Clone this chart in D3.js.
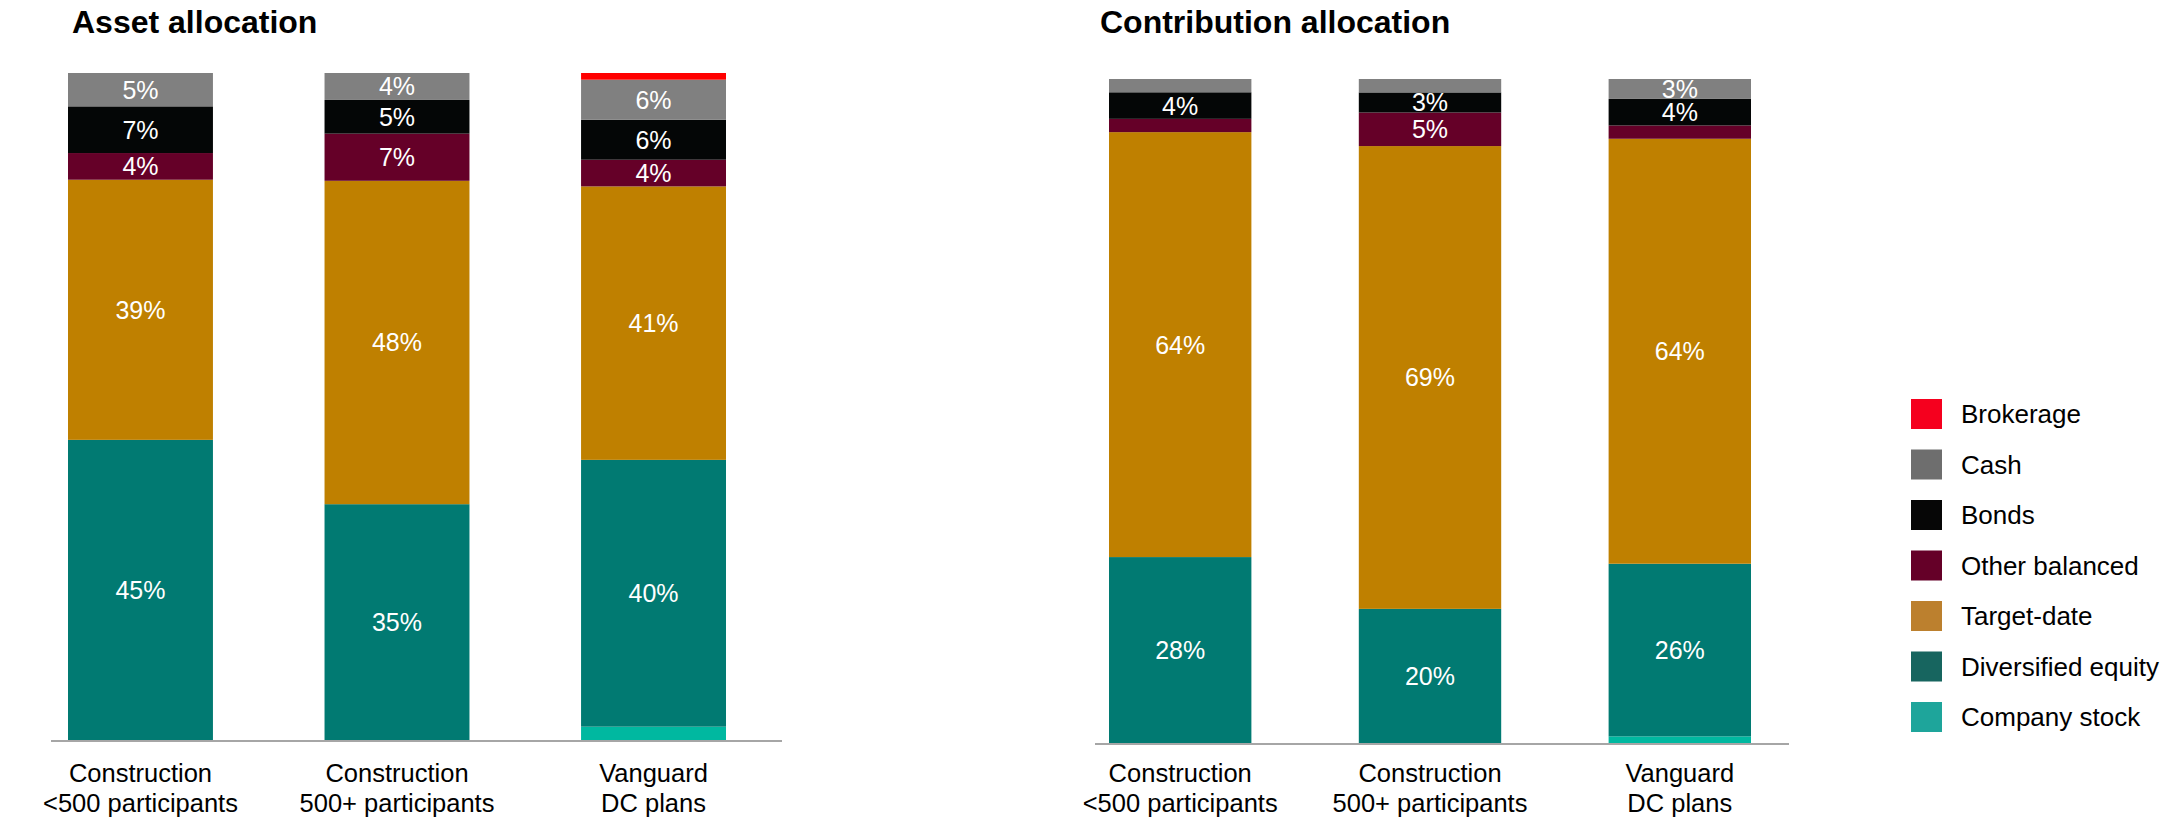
<!DOCTYPE html>
<html>
<head>
<meta charset="utf-8">
<script src="https://cdn.jsdelivr.net/npm/d3@7"></script>
<style>
  html, body { margin: 0; padding: 0; background: #ffffff; }
  svg { display: block; font-family: "Liberation Sans", Arial, sans-serif; }
</style>
</head>
<body>
<svg id="chart" width="2169" height="822"></svg>
<script>
// Plan groups (two-line axis labels)
const categories = ["c500", "c500plus", "vanguard"];
const categoryLines = [
  ["Construction", "<500 participants"],
  ["Construction", "500+ participants"],
  ["Vanguard", "DC plans"]
];

// Series, stacked bottom to top
const seriesKeys = ["Company stock", "Diversified equity", "Target-date", "Other balanced", "Bonds", "Cash", "Brokerage"];
const barColors = ["#00b8a0", "#017a72", "#bf8000", "#650028", "#040606", "#808080", "#ff0000"];
const legendColors = ["#1ea59b", "#17655f", "#bc802e", "#650028", "#060606", "#6e6e6e", "#f5001e"];

// Asset allocation (%)
const assetCompanyStock     = [0, 0, 2];
const assetDiversifiedEquity = [45, 35, 40];
const assetTargetDate       = [39, 48, 41];
const assetOtherBalanced    = [4, 7, 4];
const assetBonds            = [7, 5, 6];
const assetCash             = [5, 4, 6];
const assetBrokerage        = [0, 0, 1];

// Contribution allocation (%)
const contribCompanyStock     = [0, 0, 1];
const contribDiversifiedEquity = [28, 20, 26];
const contribTargetDate       = [64, 69, 64];
const contribOtherBalanced    = [2, 5, 2];
const contribBonds            = [4, 3, 4];
const contribCash             = [2, 2, 3];
const contribBrokerage        = [0, 0, 0];

const labelMin = 3; // segments below this share carry no value label

function buildRows(cols) {
  return categories.map((c, i) => {
    const row = { category: c };
    seriesKeys.forEach((k, j) => { row[k] = cols[j][i]; });
    return row;
  });
}

const assetRows = buildRows([assetCompanyStock, assetDiversifiedEquity, assetTargetDate,
  assetOtherBalanced, assetBonds, assetCash, assetBrokerage]);
const contribRows = buildRows([contribCompanyStock, contribDiversifiedEquity, contribTargetDate,
  contribOtherBalanced, contribBonds, contribCash, contribBrokerage]);

const svg = d3.select("#chart");
const color = d3.scaleOrdinal().domain(seriesKeys).range(barColors);
const stack = d3.stack().keys(seriesKeys).offset(d3.stackOffsetExpand);

function drawPanel(opts) {
  const g = svg.append("g");

  g.append("text")
    .attr("x", opts.titleX).attr("y", 33)
    .attr("font-size", 32).attr("font-weight", "bold").attr("fill", "#000")
    .text(opts.title);

  const x = d3.scaleBand().domain(categories)
    .range(opts.barRange).paddingInner(opts.padInner).paddingOuter(0);
  const y = d3.scaleLinear().domain([0, 1]).range([opts.baseY, opts.topY]);

  const layers = stack(opts.rows);

  const layerG = g.selectAll("g.layer").data(layers).join("g")
    .attr("class", "layer").attr("fill", d => color(d.key));

  layerG.selectAll("rect").data(d => d).join("rect")
    .attr("x", d => x(d.data.category))
    .attr("width", x.bandwidth())
    .attr("y", d => y(d[1]))
    .attr("height", d => Math.max(0, y(d[0]) - y(d[1])));

  // value labels
  layers.forEach(layer => {
    layer.forEach(d => {
      const v = d.data[layer.key];
      if (v >= labelMin) {
        g.append("text")
          .attr("x", x(d.data.category) + x.bandwidth() / 2)
          .attr("y", (y(d[0]) + y(d[1])) / 2)
          .attr("text-anchor", "middle")
          .attr("dominant-baseline", "central")
          .attr("font-size", 25).attr("fill", "#ffffff")
          .text(v + "%");
      }
    });
  });

  // baseline axis
  const axis = d3.axisBottom(x).tickSize(0).tickFormat("");
  const axisG = g.append("g").attr("transform", `translate(0,${opts.baseY})`).call(axis);
  axisG.select(".domain").remove();
  g.append("line")
    .attr("x1", opts.lineRange[0]).attr("x2", opts.lineRange[1])
    .attr("y1", opts.baseY + 1).attr("y2", opts.baseY + 1)
    .attr("stroke", "#a6a6a6").attr("stroke-width", 2);

  // category labels
  categories.forEach((c, i) => {
    const t = g.append("text")
      .attr("x", x(c) + x.bandwidth() / 2)
      .attr("y", 782)
      .attr("text-anchor", "middle")
      .attr("font-size", 25.5).attr("fill", "#000");
    categoryLines[i].forEach((line, li) => {
      t.append("tspan").attr("x", x(c) + x.bandwidth() / 2)
        .attr("dy", li === 0 ? 0 : 30).text(line);
    });
  });
}

drawPanel({
  title: "Asset allocation", titleX: 72, rows: assetRows,
  barRange: [68, 726], padInner: 0.435, baseY: 740, topY: 73, lineRange: [51, 782]
});
drawPanel({
  title: "Contribution allocation", titleX: 1100, rows: contribRows,
  barRange: [1109, 1751], padInner: 0.43, baseY: 743, topY: 79, lineRange: [1095, 1789]
});

// legend, top entry first
const legendOrder = seriesKeys.slice().reverse();
const legendG = svg.append("g").attr("transform", "translate(1911,399)");
const items = legendG.selectAll("g").data(legendOrder).join("g")
  .attr("transform", (d, i) => `translate(0,${i * 50.5})`);
items.append("rect").attr("width", 31).attr("height", 30)
  .attr("fill", d => legendColors[seriesKeys.indexOf(d)]);
items.append("text").attr("x", 50).attr("y", 15)
  .attr("dominant-baseline", "central")
  .attr("font-size", 26).attr("fill", "#000")
  .text(d => d);
</script>
</body>
</html>
